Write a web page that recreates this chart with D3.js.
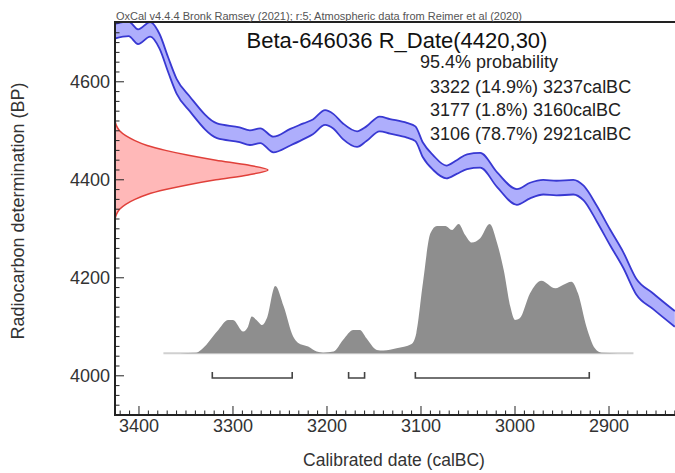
<!DOCTYPE html>
<html>
<head>
<meta charset="utf-8">
<script src="https://d3js.org/d3.v7.min.js"></script>
<style>
body{margin:0;background:#fff;}
text{font-family:"Liberation Sans",Arial,sans-serif;}
</style>
</head>
<body>
<svg id="chart" width="675" height="473"></svg>
<script>
// calibration curve (calBC, BP, 1 sigma)
var calYears = [3426,3411,3401,3388,3378,3369,3360,3346,3317,3293,3282,3271,3257,3239,3225,3215,3202,3193,3183,3168,3158,3144,3133,3115,3106,3098,3087,3073,3062,3051,3037,3019,2998,2984,2970,2956,2938,2927,2913,2899,2885,2871,2853,2830];
var calBP = [4703,4708,4692,4707,4682,4635,4591,4555,4500,4492,4486,4490,4472,4487,4499,4508,4527,4519,4499,4483,4494,4514,4509,4501,4494,4461,4435,4416,4426,4437,4440,4400,4365,4378,4385,4383,4385,4373,4331,4283,4237,4182,4152,4116];
var calSigma = [15,15,15,15,15,15,15,15,15,15,15,15,16,17,16,15,15,15,16,16,15,15,15,15,15,15,15,13,14,15,15,15,16,16,15,15,15,15,16,16,16,16,16,16];

// R_Date likelihood as drawn on the y axis
var rBP = [4520,4510,4500,4490,4480,4470,4460,4450,4440,4430,4420,4410,4400,4390,4380,4370,4360,4350,4340,4330,4320];
var rDens = [0,0.01,0.03,0.07,0.13,0.21,0.33,0.48,0.66,0.87,1,0.87,0.66,0.48,0.33,0.21,0.13,0.07,0.03,0.01,0];

// calibrated distribution
var postYears = [3374,3339,3332,3317,3305,3300,3289,3284,3280,3275,3269,3264,3255,3246,3236,3231,3220,3211,3204,3193,3183,3172,3165,3158,3147,3140,3126,3110,3105,3098,3090,3083,3074,3067,3060,3053,3046,3037,3027,3019,3012,3005,3000,2995,2984,2972,2957,2949,2940,2933,2924,2915,2908,2874];
var postProb = [0,0.005,0.039,0.168,0.258,0.258,0.168,0.206,0.284,0.258,0.219,0.271,0.521,0.361,0.129,0.082,0.052,0.013,0.005,0.013,0.103,0.18,0.18,0.116,0.026,0.021,0.039,0.072,0.155,0.541,0.928,0.985,0.985,0.954,1,0.915,0.856,0.889,1,0.851,0.644,0.361,0.258,0.271,0.464,0.562,0.503,0.528,0.554,0.464,0.206,0.039,0.005,0];

// 95.4% ranges
var rangeFrom = [3322,3177,3106];
var rangeTo = [3237,3160,2921];
var rangePct = ["14.9%","1.8%","78.7%"];

var xTicks = [3400,3300,3200,3100,3000,2900];
var yTicks = [4000,4200,4400,4600];

var headerText = "OxCal v4.4.4 Bronk Ramsey (2021); r:5; Atmospheric data from Reimer et al (2020)";
var titleText = "Beta-646036 R_Date(4420,30)";

var svg = d3.select("#chart");
var pLeft = 115, pRight = 675, pTop = 22, pBottom = 415;

var x = d3.scaleLinear().domain([3425.5,2829.8]).range([pLeft,pRight]);
var y = d3.scaleLinear().domain([3920,4722]).range([pBottom,pTop]);
var xr = d3.scaleLinear().domain([0,1]).range([pLeft,268]);
var yp = d3.scaleLinear().domain([0,1]).range([353.3,224]);

svg.append("clipPath").attr("id","plot")
	.append("rect").attr("x",pLeft).attr("y",pTop).attr("width",pRight-pLeft).attr("height",pBottom-pTop);

var g = svg.append("g").attr("clip-path","url(#plot)");

// calibrated distribution
var post = postYears.map((d,i)=>({yr:d,p:postProb[i]}));
g.append("line")
	.attr("x1",x(postYears[0])).attr("x2",x(postYears[postYears.length-1]))
	.attr("y1",yp(0)).attr("y2",yp(0))
	.style("stroke","#d0d0d0").style("stroke-width",2);
g.append("path")
	.datum(post)
	.attr("d",d3.area().curve(d3.curveMonotoneX)
		.x(d=>x(d.yr)).y0(yp(0)).y1(d=>yp(d.p)))
	.style("fill","#8e8e8e");

// calibration curve band
var cal = calYears.map((d,i)=>({yr:d,bp:calBP[i],s:calSigma[i]}));
g.append("path")
	.datum(cal)
	.attr("d",d3.area().curve(d3.curveMonotoneX)
		.x(d=>x(d.yr)).y0(d=>y(d.bp-d.s)).y1(d=>y(d.bp+d.s)))
	.style("fill","#aeaefc");
[1,-1].forEach(k=>{
	g.append("path")
		.datum(cal)
		.attr("d",d3.line().curve(d3.curveMonotoneX)
			.x(d=>x(d.yr)).y(d=>y(d.bp+k*d.s)))
		.style("fill","none")
		.style("stroke","#3838d2")
		.style("stroke-width",1.8);
});

// radiocarbon likelihood
var rd = rBP.map((d,i)=>({bp:d,v:rDens[i]}));
g.append("path")
	.datum(rd)
	.attr("d",d3.area().curve(d3.curveMonotoneY)
		.y(d=>y(d.bp)).x0(xr(0)).x1(d=>xr(d.v)))
	.style("fill","#ffb8b8");
g.append("path")
	.datum(rd)
	.attr("d",d3.line().curve(d3.curveMonotoneY)
		.y(d=>y(d.bp)).x(d=>xr(d.v)))
	.style("fill","none")
	.style("stroke","#e0403a")
	.style("stroke-width",1.5);

// range brackets
var by = 378;
rangeFrom.forEach((d,i)=>{
	var x1 = x(d), x2 = x(rangeTo[i]);
	svg.append("path")
		.attr("d","M"+x1+","+(by-6)+"V"+by+"H"+x2+"V"+(by-6))
		.style("fill","none").style("stroke","#444").style("stroke-width",1.6);
});

// axes
var axisColor = "#222";
svg.append("line").attr("x1",pLeft-1).attr("x2",pRight).attr("y1",pTop).attr("y2",pTop)
	.style("stroke",axisColor).style("stroke-width",2);
svg.append("line").attr("x1",pLeft).attr("x2",pLeft).attr("y1",pTop).attr("y2",pBottom)
	.style("stroke",axisColor).style("stroke-width",2);
svg.append("line").attr("x1",pLeft-1).attr("x2",pRight).attr("y1",pBottom).attr("y2",pBottom)
	.style("stroke",axisColor).style("stroke-width",2);

var xMinor = d3.range(3420,2829,-10);
svg.selectAll(".xminor").data(xMinor).enter().append("line")
	.attr("x1",d=>x(d)).attr("x2",d=>x(d))
	.attr("y1",pBottom).attr("y2",d=>xTicks.indexOf(d)>=0 ? pBottom-9 : pBottom-4.5)
	.style("stroke",axisColor).style("stroke-width",1);
svg.selectAll(".xlab").data(xTicks).enter().append("text")
	.attr("x",d=>x(d)).attr("y",432)
	.attr("text-anchor","middle")
	.style("font-size","18px").style("fill","#333")
	.text(d=>d);

var yMinor = d3.range(3940,4721,20);
svg.selectAll(".yminor").data(yMinor).enter().append("line")
	.attr("x1",pLeft).attr("x2",d=>yTicks.indexOf(d)>=0 ? pLeft+9 : pLeft+4.5)
	.attr("y1",d=>y(d)).attr("y2",d=>y(d))
	.style("stroke",axisColor).style("stroke-width",1);
svg.selectAll(".ylab").data(yTicks).enter().append("text")
	.attr("x",110).attr("y",d=>y(d)).attr("dy","0.36em")
	.attr("text-anchor","end")
	.style("font-size","18px").style("fill","#333")
	.text(d=>d);

svg.append("text")
	.attr("transform","translate(24,211) rotate(-90)")
	.attr("text-anchor","middle")
	.style("font-size","18px").style("fill","#333")
	.text("Radiocarbon determination (BP)");
svg.append("text")
	.attr("x",394).attr("y",466)
	.attr("text-anchor","middle")
	.style("font-size","17.5px").style("fill","#333")
	.text("Calibrated date (calBC)");

// texts
svg.append("text")
	.attr("x",116).attr("y",20)
	.attr("textLength",406).attr("lengthAdjust","spacingAndGlyphs")
	.style("font-size","10px").style("fill","#555")
	.text(headerText);
svg.append("text")
	.attr("x",397).attr("y",48)
	.attr("text-anchor","middle")
	.style("font-size","22px").style("fill","#111")
	.text(titleText);
svg.append("text")
	.attr("x",420).attr("y",68)
	.style("font-size","18px").style("fill","#222")
	.text("95.4% probability");
rangeFrom.forEach((d,i)=>{
	svg.append("text")
		.attr("x",430).attr("y",92.5+i*23.5)
		.style("font-size","18px").style("fill","#222")
		.text(d+" ("+rangePct[i]+") "+rangeTo[i]+"calBC");
});
</script>
</body>
</html>
